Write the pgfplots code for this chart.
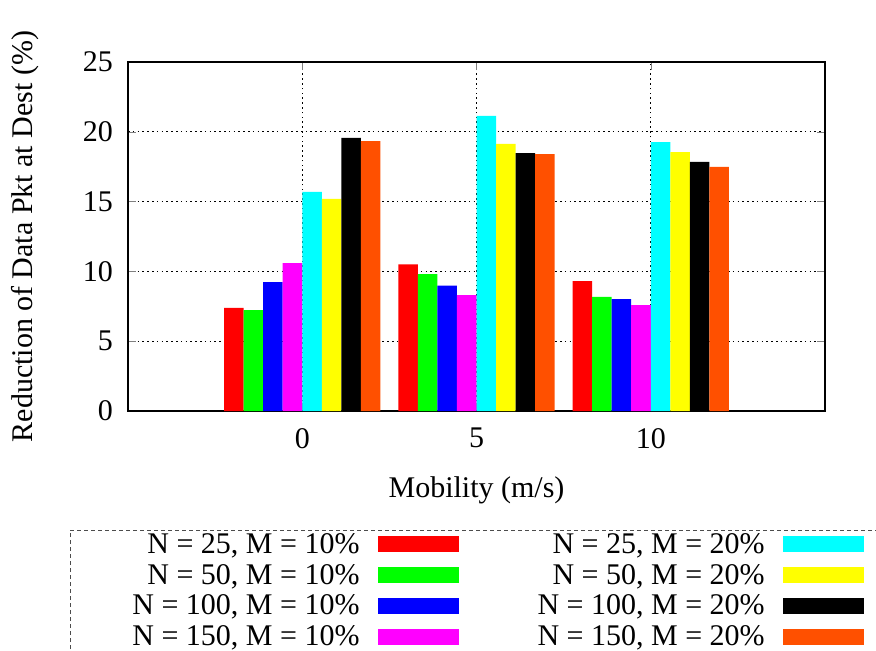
\documentclass[border=0pt]{standalone}
\usepackage{fontspec}
\setmainfont{Liberation Serif}
\usepackage{pgfplots}
\pgfplotsset{compat=1.18}
\definecolor{c1}{RGB}{255,0,0}
\definecolor{c2}{RGB}{0,255,0}
\definecolor{c3}{RGB}{0,0,255}
\definecolor{c4}{RGB}{255,0,255}
\definecolor{c5}{RGB}{0,255,255}
\definecolor{c6}{RGB}{255,255,0}
\definecolor{c7}{RGB}{0,0,0}
\definecolor{c8}{RGB}{255,80,0}
\begin{document}
\begin{tikzpicture}[font=\fontsize{15}{18}\selectfont]
\begin{axis}[
  at={(0,0)}, anchor=south west,
  scale only axis, width=348.5pt, height=174.5pt,
  xmin=-5, xmax=15, ymin=0, ymax=25,
  xtick={0,5,10}, ytick={0,5,10,15,20,25},
  /pgf/number format/assume math mode=true,
  ybar=0pt, bar width=0.56,
  tick pos=both, tick align=inside, major tick length=4pt,
  axis line style={line width=0.6pt},
  grid=major, major grid style={black, line width=0.5pt, dash pattern=on 0.8pt off 1.6pt},
  yticklabel style={xshift=-4pt},
  xticklabel style={yshift=-5pt},
  xlabel={Mobility (m/s)},
  ylabel={Reduction of Data Pkt at Dest (\%)},
  xlabel style={at={(axis description cs:0.5,-0.2264)}, anchor=center},
  ylabel style={at={(axis description cs:-0.1478,0.5)}, anchor=center, rotate=0},
  legend columns=4, transpose legend,
  legend plot pos=right, legend cell align=right,
  legend image code/.code={\path[#1, draw=none] (0pt,-4pt) rectangle (40.5pt,4pt);},
  legend style={at={(-0.0832,-0.3410)}, anchor=north west,
    draw=none, fill=none,
    inner xsep=31pt, inner ysep=0.5pt,
    column sep=9pt, row sep=2.35pt,
    /tikz/every even column/.append style={column sep=39.5pt},
    nodes={inner sep=0pt, text height=11pt, text depth=2pt}},
]
\addplot[fill=c1, draw=none] coordinates {(0,7.38) (5,10.50) (10,9.31)};
\addplot[fill=c2, draw=none] coordinates {(0,7.23) (5,9.81) (10,8.17)};
\addplot[fill=c3, draw=none] coordinates {(0,9.24) (5,8.98) (10,8.02)};
\addplot[fill=c4, draw=none] coordinates {(0,10.60) (5,8.31) (10,7.59)};
\addplot[fill=c5, draw=none] coordinates {(0,15.69) (5,21.15) (10,19.27)};
\addplot[fill=c6, draw=none] coordinates {(0,15.19) (5,19.13) (10,18.55)};
\addplot[fill=c7, draw=none] coordinates {(0,19.56) (5,18.48) (10,17.84)};
\addplot[fill=c8, draw=none] coordinates {(0,19.34) (5,18.41) (10,17.48)};
\legend{N = 25{,} M = 10\%, N = 50{,} M = 10\%, N = 100{,} M = 10\%, N = 150{,} M = 10\%,
        N = 25{,} M = 20\%, N = 50{,} M = 20\%, N = 100{,} M = 20\%, N = 150{,} M = 20\%}
\end{axis}
\draw[black!70, line width=0.4pt, dash pattern=on 2pt off 1.5pt]
  (-29pt,-140pt) -- (-29pt,-59.5pt) -- (390pt,-59.5pt);
\pgfresetboundingbox
\path (-64pt,-119.5pt) rectangle (374pt,205.5pt);
\end{tikzpicture}
\end{document}
